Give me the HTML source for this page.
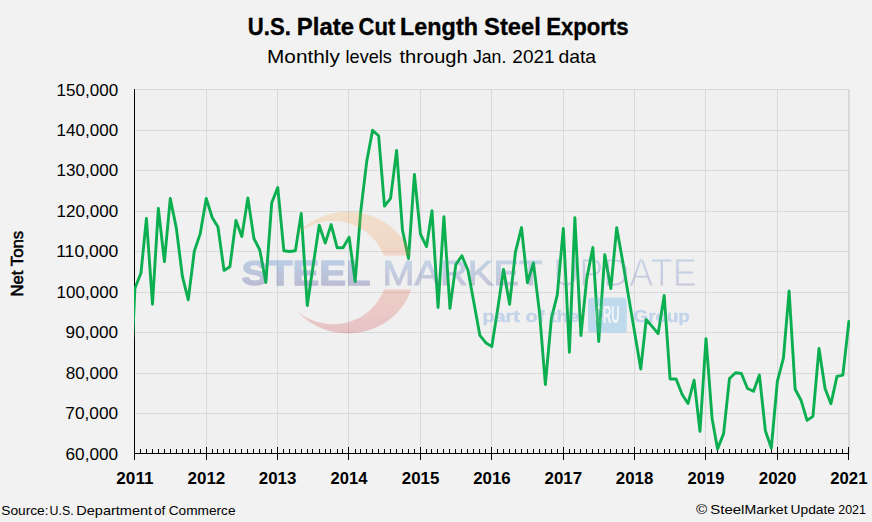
<!DOCTYPE html><html><head><meta charset="utf-8"><title>U.S. Plate Cut Length Steel Exports</title>
<style>html,body{margin:0;padding:0;background:#F2F2F2;}body{width:872px;height:522px;overflow:hidden;font-family:"Liberation Sans",sans-serif;}svg{display:block;}text{font-family:"Liberation Sans",sans-serif;}</style></head><body>
<svg width="872" height="522" viewBox="0 0 872 522">
<defs><clipPath id="pc"><rect x="133.9" y="89" width="716.1" height="365"/></clipPath>
<linearGradient id="sw" x1="0" y1="0" x2="0" y2="1"><stop offset="0" stop-color="#FAA541"/><stop offset="0.55" stop-color="#EE6030"/><stop offset="1" stop-color="#C8202C"/></linearGradient>
<linearGradient id="tg" gradientUnits="userSpaceOnUse" x1="0" y1="258" x2="0" y2="287"><stop offset="0" stop-color="#5C94D6"/><stop offset="1" stop-color="#58589C"/></linearGradient>
<linearGradient id="tg2" gradientUnits="userSpaceOnUse" x1="0" y1="258" x2="0" y2="287"><stop offset="0" stop-color="#73A2D4"/><stop offset="1" stop-color="#8181B8"/></linearGradient>
<mask id="cm"><rect x="280" y="200" width="140" height="140" fill="#fff"/><ellipse cx="333.05" cy="272.7" rx="53.7" ry="51.6" fill="#000"/><rect x="280" y="255.5" width="140" height="34" fill="#000"/></mask>
<mask id="um"><text x="553.2" y="285.5" font-size="38.3" fill="#fff" stroke="#000" stroke-width="1.1" textLength="143.5" lengthAdjust="spacingAndGlyphs">UPDATE</text></mask>
</defs>
<rect x="0" y="0" width="872" height="522" fill="#F2F2F2"/>
<rect x="134.5" y="89.5" width="714" height="364" fill="#F0F0F0"/>
<path d="M134.5 89.50 H848.5 M134.5 130.50 H848.5 M134.5 170.50 H848.5 M134.5 211.50 H848.5 M134.5 251.50 H848.5 M134.5 292.50 H848.5 M134.5 332.50 H848.5 M134.5 373.50 H848.5 M134.5 413.50 H848.5 M206.50 89.5 V453.5 M277.50 89.5 V453.5 M348.50 89.5 V453.5 M420.50 89.5 V453.5 M491.50 89.5 V453.5 M563.50 89.5 V453.5 M634.50 89.5 V453.5 M705.50 89.5 V453.5 M777.50 89.5 V453.5" stroke="#D9D9D9" stroke-width="1" fill="none" shape-rendering="crispEdges"/>
<path d="M849 89 V454" stroke="#D9D9D9" stroke-width="2" fill="none" shape-rendering="crispEdges"/>
<path d="M134.5 89 V460" stroke="#000" stroke-width="1" shape-rendering="crispEdges"/>
<path d="M134 453.5 H849" stroke="#000" stroke-width="1" shape-rendering="crispEdges"/>
<path d="M134.5 447 V460 M140.5 449 V454 M146.5 449 V454 M152.5 449 V454 M158.5 449 V454 M164.5 449 V454 M170.5 449 V454 M176.5 449 V454 M182.5 449 V454 M188.5 449 V454 M194.5 449 V454 M200.5 449 V454 M206.5 447 V460 M212.5 449 V454 M217.5 449 V454 M223.5 449 V454 M229.5 449 V454 M235.5 449 V454 M241.5 449 V454 M247.5 449 V454 M253.5 449 V454 M259.5 449 V454 M265.5 449 V454 M271.5 449 V454 M277.5 447 V460 M283.5 449 V454 M289.5 449 V454 M295.5 449 V454 M301.5 449 V454 M307.5 449 V454 M312.5 449 V454 M319.5 449 V454 M325.5 449 V454 M330.5 449 V454 M337.5 449 V454 M342.5 449 V454 M348.5 447 V460 M355.5 449 V454 M360.5 449 V454 M366.5 449 V454 M372.5 449 V454 M378.5 449 V454 M384.5 449 V454 M390.5 449 V454 M396.5 449 V454 M402.5 449 V454 M408.5 449 V454 M414.5 449 V454 M420.5 447 V460 M426.5 449 V454 M431.5 449 V454 M437.5 449 V454 M443.5 449 V454 M449.5 449 V454 M455.5 449 V454 M461.5 449 V454 M467.5 449 V454 M473.5 449 V454 M479.5 449 V454 M485.5 449 V454 M491.5 447 V460 M497.5 449 V454 M503.5 449 V454 M509.5 449 V454 M515.5 449 V454 M521.5 449 V454 M527.5 449 V454 M533.5 449 V454 M539.5 449 V454 M545.5 449 V454 M551.5 449 V454 M557.5 449 V454 M563.5 447 V460 M569.5 449 V454 M574.5 449 V454 M580.5 449 V454 M586.5 449 V454 M592.5 449 V454 M598.5 449 V454 M604.5 449 V454 M610.5 449 V454 M616.5 449 V454 M622.5 449 V454 M628.5 449 V454 M634.5 447 V460 M640.5 449 V454 M646.5 449 V454 M652.5 449 V454 M657.5 449 V454 M664.5 449 V454 M669.5 449 V454 M675.5 449 V454 M682.5 449 V454 M687.5 449 V454 M693.5 449 V454 M699.5 449 V454 M705.5 447 V460 M711.5 449 V454 M717.5 449 V454 M723.5 449 V454 M729.5 449 V454 M735.5 449 V454 M741.5 449 V454 M747.5 449 V454 M753.5 449 V454 M759.5 449 V454 M765.5 449 V454 M771.5 449 V454 M777.5 447 V460 M783.5 449 V454 M788.5 449 V454 M794.5 449 V454 M800.5 449 V454 M806.5 449 V454 M812.5 449 V454 M818.5 449 V454 M824.5 449 V454 M830.5 449 V454 M836.5 449 V454 M842.5 449 V454 M848.5 447 V460" stroke="#000" stroke-width="1" shape-rendering="crispEdges"/>
<g opacity="0.267">
<text x="241.4" y="284.7" font-size="35.0" font-weight="bold" fill="url(#tg)" stroke="url(#tg)" stroke-width="1.3" stroke-linejoin="round" textLength="129" lengthAdjust="spacingAndGlyphs">STEEL</text>
</g><g opacity="0.220">
<text x="382.5" y="284.6" font-size="35.5" fill="url(#tg)" stroke="url(#tg)" stroke-width="1.0" textLength="160" lengthAdjust="spacingAndGlyphs">MARKET</text>
</g><g opacity="0.297">
<rect x="550" y="255" width="150" height="34" fill="url(#tg2)" mask="url(#um)"/>
</g>
<g opacity="0.375">
<text x="482.4" y="322.3" font-size="16.8" font-weight="bold" fill="#8DB3E2" stroke="#8DB3E2" stroke-width="0.4" textLength="97.3" lengthAdjust="spacingAndGlyphs">part of the</text>
<text x="633.6" y="322.3" font-size="16.8" font-weight="bold" fill="#8DB3E2" stroke="#8DB3E2" stroke-width="0.4" textLength="56.2" lengthAdjust="spacingAndGlyphs">Group</text>
</g>
<g opacity="0.537">
<rect x="588.0" y="297.7" width="38.7" height="34.9" rx="3" fill="#A3CDEB"/>
<text x="594.6" y="323.4" font-size="23.3" font-weight="bold" fill="#F7FAFD" textLength="25" lengthAdjust="spacingAndGlyphs">CRU</text>
</g>
<g clip-path="url(#pc)"><path d="M128.84 425.50 L134.90 288.30 L140.96 273.00 L146.43 218.50 L152.49 304.20 L158.35 208.40 L164.41 261.60 L170.28 198.50 L176.34 228.10 L182.40 276.40 L188.26 299.80 L194.32 251.10 L200.18 233.90 L206.24 198.50 L212.30 217.80 L217.97 227.00 L224.03 270.40 L229.89 266.80 L235.95 220.40 L241.81 236.60 L247.87 197.90 L253.93 238.50 L259.80 250.00 L265.86 282.50 L271.72 202.80 L277.78 187.60 L283.84 250.70 L289.31 251.50 L295.37 250.70 L301.23 213.50 L307.29 305.50 L313.16 265.20 L319.21 225.30 L325.27 243.10 L331.14 224.60 L337.20 247.80 L343.06 247.80 L349.12 237.30 L355.18 281.50 L360.65 212.20 L366.71 161.60 L372.57 130.20 L378.63 135.80 L384.50 206.10 L390.56 198.40 L396.62 150.40 L402.48 230.30 L408.54 258.50 L414.40 174.50 L420.46 234.20 L426.52 246.60 L431.99 210.80 L438.05 307.50 L443.92 216.60 L449.97 308.40 L455.84 264.60 L461.90 255.70 L467.96 270.30 L473.82 302.20 L479.88 335.40 L485.74 342.70 L491.80 346.60 L497.86 308.00 L503.53 269.50 L509.59 304.30 L515.45 251.90 L521.51 227.60 L527.38 282.70 L533.43 263.00 L539.49 312.20 L545.36 384.50 L551.42 318.10 L557.28 294.80 L563.34 228.50 L569.40 352.30 L574.87 217.70 L580.93 335.50 L586.79 278.40 L592.85 247.50 L598.72 341.50 L604.78 254.70 L610.83 288.50 L616.70 227.70 L622.76 261.70 L628.62 296.70 L634.68 332.70 L640.74 369.10 L646.21 319.50 L652.27 326.60 L658.14 333.70 L664.19 295.50 L670.06 379.00 L676.12 379.00 L682.18 394.50 L688.04 403.50 L694.10 380.20 L699.96 431.30 L706.02 338.60 L712.08 418.40 L717.55 448.90 L723.61 433.60 L729.48 378.50 L735.54 372.70 L741.40 373.50 L747.46 388.50 L753.52 391.30 L759.38 375.00 L765.44 431.10 L771.30 448.00 L777.36 381.40 L783.42 358.10 L789.09 291.00 L795.15 389.20 L801.01 400.20 L807.07 420.40 L812.94 416.40 L819.00 348.50 L825.05 388.50 L830.92 403.70 L836.98 376.40 L842.84 375.20 L848.90 321.50" fill="none" stroke="#0BAF50" stroke-width="2.9" stroke-linejoin="round" stroke-linecap="round"/></g>
<g opacity="0.100">
<text x="241.4" y="284.7" font-size="35.0" font-weight="bold" fill="url(#tg)" stroke="url(#tg)" stroke-width="1.3" stroke-linejoin="round" textLength="129" lengthAdjust="spacingAndGlyphs">STEEL</text>
</g><g opacity="0.090">
<text x="382.5" y="284.6" font-size="35.5" fill="url(#tg)" stroke="url(#tg)" stroke-width="1.0" textLength="160" lengthAdjust="spacingAndGlyphs">MARKET</text>
</g><g opacity="0.090">
<rect x="550" y="255" width="150" height="34" fill="url(#tg2)" mask="url(#um)"/>
</g>
<g opacity="0.120">
<text x="482.4" y="322.3" font-size="16.8" font-weight="bold" fill="#8DB3E2" stroke="#8DB3E2" stroke-width="0.4" textLength="97.3" lengthAdjust="spacingAndGlyphs">part of the</text>
<text x="633.6" y="322.3" font-size="16.8" font-weight="bold" fill="#8DB3E2" stroke="#8DB3E2" stroke-width="0.4" textLength="56.2" lengthAdjust="spacingAndGlyphs">Group</text>
</g>
<g opacity="0.180">
<rect x="588.0" y="297.7" width="38.7" height="34.9" rx="3" fill="#A3CDEB"/>
<text x="594.6" y="323.4" font-size="23.3" font-weight="bold" fill="#F7FAFD" textLength="25" lengthAdjust="spacingAndGlyphs">CRU</text>
</g>
<ellipse cx="347.8" cy="272.6" rx="65.8" ry="60.8" fill="url(#sw)" mask="url(#cm)" opacity="0.21"/>
<text x="247.87" y="34.70" font-size="23.1" font-weight="bold" fill="#000" stroke="#000" stroke-width="0.35" textLength="43.00" lengthAdjust="spacingAndGlyphs">U.S.</text>
<text x="296.83" y="34.70" font-size="23.1" font-weight="bold" fill="#000" stroke="#000" stroke-width="0.35" textLength="57.11" lengthAdjust="spacingAndGlyphs">Plate</text>
<text x="358.61" y="34.70" font-size="23.1" font-weight="bold" fill="#000" stroke="#000" stroke-width="0.35" textLength="36.70" lengthAdjust="spacingAndGlyphs">Cut</text>
<text x="400.12" y="34.70" font-size="23.1" font-weight="bold" fill="#000" stroke="#000" stroke-width="0.35" textLength="77.82" lengthAdjust="spacingAndGlyphs">Length</text>
<text x="484.09" y="34.70" font-size="23.1" font-weight="bold" fill="#000" stroke="#000" stroke-width="0.35" textLength="56.64" lengthAdjust="spacingAndGlyphs">Steel</text>
<text x="546.13" y="34.70" font-size="23.1" font-weight="bold" fill="#000" stroke="#000" stroke-width="0.35" textLength="82.42" lengthAdjust="spacingAndGlyphs">Exports</text>
<text x="267.06" y="62.90" font-size="18.6" fill="#000" textLength="72.72" lengthAdjust="spacingAndGlyphs">Monthly</text>
<text x="345.59" y="62.90" font-size="18.6" fill="#000" textLength="46.25" lengthAdjust="spacingAndGlyphs">levels</text>
<text x="399.56" y="62.90" font-size="18.6" fill="#000" textLength="68.12" lengthAdjust="spacingAndGlyphs">through</text>
<text x="472.95" y="62.90" font-size="18.6" fill="#000" textLength="33.39" lengthAdjust="spacingAndGlyphs">Jan.</text>
<text x="512.36" y="62.90" font-size="18.6" fill="#000" textLength="42.19" lengthAdjust="spacingAndGlyphs">2021</text>
<text x="558.43" y="62.90" font-size="18.6" fill="#000" textLength="37.67" lengthAdjust="spacingAndGlyphs">data</text>
<text x="1.24" y="514.80" font-size="13.4" fill="#000" textLength="47.27" lengthAdjust="spacingAndGlyphs">Source:</text>
<text x="49.59" y="514.80" font-size="13.4" fill="#000" textLength="24.15" lengthAdjust="spacingAndGlyphs">U.S.</text>
<text x="76.32" y="514.80" font-size="13.4" fill="#000" textLength="75.83" lengthAdjust="spacingAndGlyphs">Department</text>
<text x="153.99" y="514.80" font-size="13.4" fill="#000" textLength="11.27" lengthAdjust="spacingAndGlyphs">of</text>
<text x="168.70" y="514.80" font-size="13.4" fill="#000" textLength="66.89" lengthAdjust="spacingAndGlyphs">Commerce</text>
<text x="695.94" y="514.00" font-size="13.4" fill="#000" textLength="11.20" lengthAdjust="spacingAndGlyphs">©</text>
<text x="710.29" y="514.00" font-size="13.4" fill="#000" textLength="34.14" lengthAdjust="spacingAndGlyphs">Steel</text>
<text x="744.54" y="514.00" font-size="13.4" fill="#000" textLength="43.11" lengthAdjust="spacingAndGlyphs">Market</text>
<text x="790.56" y="514.00" font-size="13.4" fill="#000" textLength="44.49" lengthAdjust="spacingAndGlyphs">Update</text>
<text x="838.23" y="514.00" font-size="13.4" fill="#000" textLength="27.73" lengthAdjust="spacingAndGlyphs">2021</text>
<text x="56.64" y="95.60" font-size="15.9" fill="#000" textLength="61.60" lengthAdjust="spacingAndGlyphs">150,000</text>
<text x="56.64" y="136.04" font-size="15.9" fill="#000" textLength="61.60" lengthAdjust="spacingAndGlyphs">140,000</text>
<text x="56.64" y="176.49" font-size="15.9" fill="#000" textLength="61.60" lengthAdjust="spacingAndGlyphs">130,000</text>
<text x="56.64" y="216.93" font-size="15.9" fill="#000" textLength="61.60" lengthAdjust="spacingAndGlyphs">120,000</text>
<text x="56.17" y="257.38" font-size="15.9" fill="#000" textLength="62.23" lengthAdjust="spacingAndGlyphs">110,000</text>
<text x="56.64" y="297.82" font-size="15.9" fill="#000" textLength="61.60" lengthAdjust="spacingAndGlyphs">100,000</text>
<text x="65.62" y="338.27" font-size="15.9" fill="#000" textLength="52.52" lengthAdjust="spacingAndGlyphs">90,000</text>
<text x="65.68" y="378.71" font-size="15.9" fill="#000" textLength="52.49" lengthAdjust="spacingAndGlyphs">80,000</text>
<text x="65.34" y="419.16" font-size="15.9" fill="#000" textLength="52.76" lengthAdjust="spacingAndGlyphs">70,000</text>
<text x="65.54" y="459.60" font-size="15.9" fill="#000" textLength="52.61" lengthAdjust="spacingAndGlyphs">60,000</text>
<text x="116.32" y="483.70" font-size="16.9" font-weight="bold" fill="#000" textLength="37.24" lengthAdjust="spacingAndGlyphs">2011</text>
<text x="187.53" y="483.70" font-size="16.9" font-weight="bold" fill="#000" textLength="37.77" lengthAdjust="spacingAndGlyphs">2012</text>
<text x="258.86" y="483.70" font-size="16.9" font-weight="bold" fill="#000" textLength="37.53" lengthAdjust="spacingAndGlyphs">2013</text>
<text x="330.59" y="483.70" font-size="16.9" font-weight="bold" fill="#000" textLength="36.82" lengthAdjust="spacingAndGlyphs">2014</text>
<text x="401.82" y="483.70" font-size="16.9" font-weight="bold" fill="#000" textLength="37.56" lengthAdjust="spacingAndGlyphs">2015</text>
<text x="473.23" y="483.70" font-size="16.9" font-weight="bold" fill="#000" textLength="37.46" lengthAdjust="spacingAndGlyphs">2016</text>
<text x="544.53" y="483.70" font-size="16.9" font-weight="bold" fill="#000" textLength="37.70" lengthAdjust="spacingAndGlyphs">2017</text>
<text x="615.87" y="483.70" font-size="16.9" font-weight="bold" fill="#000" textLength="37.48" lengthAdjust="spacingAndGlyphs">2018</text>
<text x="687.59" y="483.70" font-size="16.9" font-weight="bold" fill="#000" textLength="36.89" lengthAdjust="spacingAndGlyphs">2019</text>
<text x="758.81" y="483.70" font-size="16.9" font-weight="bold" fill="#000" textLength="37.45" lengthAdjust="spacingAndGlyphs">2020</text>
<text x="830.23" y="483.70" font-size="16.9" font-weight="bold" fill="#000" textLength="37.31" lengthAdjust="spacingAndGlyphs">2021</text>
<text transform="translate(23.0 296.6) rotate(-90)" x="0" y="0" font-size="16.7" fill="#000" stroke="#000" stroke-width="0.55" textLength="65.8" lengthAdjust="spacingAndGlyphs">Net Tons</text>
</svg></body></html>
